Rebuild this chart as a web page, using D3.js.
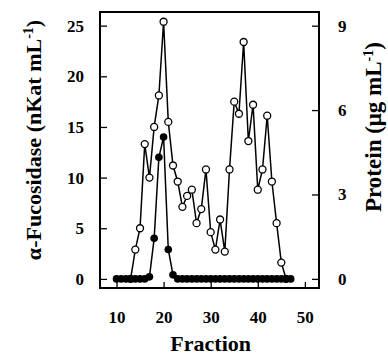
<!DOCTYPE html>
<html>
<head>
<meta charset="utf-8">
<script src="https://cdn.jsdelivr.net/npm/d3@7"></script>
<style>
  body { margin: 0; background: #fff; }
  text { font-family: "Liberation Serif", "Times New Roman", serif; font-weight: bold; fill: #000; }
</style>
</head>
<body>
<svg class="chart" width="388" height="358"></svg>
<script>
// alpha-fucosidase activity (filled circles, left axis)
var actFraction = [10, 11, 12, 13, 14, 15, 16, 17, 18, 19, 20, 21, 22, 23, 24, 25, 26, 27, 28,
                   29, 30, 31, 32, 33, 34, 35, 36, 37, 38, 39, 40, 41, 42, 43, 44, 45, 46, 47];
var actValue = [0, 0, 0, 0, 0, 0, 0, 0.2, 4, 12, 14, 2.9, 0.4, 0, 0, 0, 0, 0, 0,
                0, 0, 0, 0, 0, 0, 0, 0, 0, 0, 0, 0, 0, 0, 0, 0, 0, 0, 0];

// protein (open circles, right axis)
var protFraction = [13, 14, 15, 16, 17, 18, 19, 20, 21, 22, 23, 24, 25, 26, 27, 28, 29,
                    30, 31, 32, 33, 34, 35, 36, 37, 38, 39, 40, 41, 42, 43, 44, 45, 46];
var protValue = [0, 1.04, 1.8, 4.79, 3.6, 5.4, 6.52, 9.14, 5.58, 4.03, 3.46, 2.56, 2.95, 3.17, 1.98, 2.48, 3.89,
                 1.66, 1.04, 2.11, 0.97, 3.89, 6.3, 5.87, 8.42, 4.9, 6.19, 3.17, 3.89, 5.8, 3.46, 1.98, 0.58, 0];

var xTicks = [10, 20, 30, 40, 50];
var leftTicks = [0, 5, 10, 15, 20, 25];
var rightTicks = [0, 3, 6, 9];

var svg = d3.select(".chart"),
    margin = {top: 12, right: 69, bottom: 70, left: 100},
    width = +svg.attr("width") - margin.left - margin.right,
    height = +svg.attr("height") - margin.top - margin.bottom,
    g = svg.append("g").attr("transform", "translate(" + margin.left + "," + margin.top + ")");

var x = d3.scaleLinear().domain([6.5, 53]).range([0, width]);
var yL = d3.scaleLinear().domain([-0.9, 26.35]).range([height, 0]);
var yR = d3.scaleLinear().domain([-0.324, 9.486]).range([height, 0]);

var act = actFraction.map(function(f, i) { return {f: f, v: actValue[i]}; });
var prot = protFraction.map(function(f, i) { return {f: f, v: protValue[i]}; });

// axes, ticks pointing inward
var ax = g.append("g")
    .attr("transform", "translate(0," + height + ")")
    .call(d3.axisBottom(x).tickValues(xTicks).tickSizeInner(-6).tickSizeOuter(0).tickPadding(23));
var al = g.append("g")
    .call(d3.axisLeft(yL).tickValues(leftTicks).tickSizeInner(-7).tickSizeOuter(0).tickPadding(16));
var ar = g.append("g")
    .attr("transform", "translate(" + width + ",0)")
    .call(d3.axisRight(yR).tickValues(rightTicks).tickSizeInner(-7).tickSizeOuter(0).tickPadding(19));

[ax, al, ar].forEach(function(a) {
  a.select(".domain").remove();
  a.selectAll(".tick line").attr("stroke", "#000").attr("stroke-width", 1.3);
  a.selectAll(".tick text")
    .style("font-family", "'Liberation Serif', serif")
    .style("font-weight", "bold")
    .style("font-size", "17px");
});

g.append("rect")
    .attr("width", width)
    .attr("height", height)
    .attr("fill", "none")
    .attr("stroke", "#000")
    .attr("stroke-width", 2);

var lineAct = d3.line().x(function(d) { return x(d.f); }).y(function(d) { return yL(d.v); });
var lineProt = d3.line().x(function(d) { return x(d.f); }).y(function(d) { return yR(d.v); });

g.append("path")
    .datum(prot)
    .attr("fill", "none")
    .attr("stroke", "#000")
    .attr("stroke-width", 1.5)
    .attr("d", lineProt);

g.append("path")
    .datum(act)
    .attr("fill", "none")
    .attr("stroke", "#000")
    .attr("stroke-width", 1.5)
    .attr("d", lineAct);

g.selectAll(".prot")
  .data(prot)
  .enter().append("circle")
    .attr("class", "prot")
    .attr("cx", function(d) { return x(d.f); })
    .attr("cy", function(d) { return yR(d.v); })
    .attr("r", 3.5)
    .attr("fill", "#fff")
    .attr("stroke", "#000")
    .attr("stroke-width", 1.3);

g.selectAll(".act")
  .data(act)
  .enter().append("circle")
    .attr("class", "act")
    .attr("cx", function(d) { return x(d.f); })
    .attr("cy", function(d) { return yL(d.v); })
    .attr("r", 3.8)
    .attr("fill", "#000");

// titles
svg.append("text")
    .attr("x", margin.left + x(30))
    .attr("y", 351)
    .attr("text-anchor", "middle")
    .style("font-size", "22px")
    .text("Fraction");

var tl = svg.append("text")
    .attr("transform", "translate(41,140) rotate(-90)")
    .attr("text-anchor", "middle")
    .style("font-size", "22px");
tl.append("tspan").text("\u03b1-Fucosidase (nKat mL");
tl.append("tspan").attr("dy", "-0.55em").style("font-size", "14px").text("-1");
tl.append("tspan").attr("dy", "0.35em").text(")");

var tr = svg.append("text")
    .attr("transform", "translate(381,127) rotate(-90)")
    .attr("text-anchor", "middle")
    .style("font-size", "23px");
tr.append("tspan").text("Protein (\u03bcg mL");
tr.append("tspan").attr("dy", "-0.55em").style("font-size", "14px").text("-1");
tr.append("tspan").attr("dy", "0.35em").text(")");
</script>
</body>
</html>
